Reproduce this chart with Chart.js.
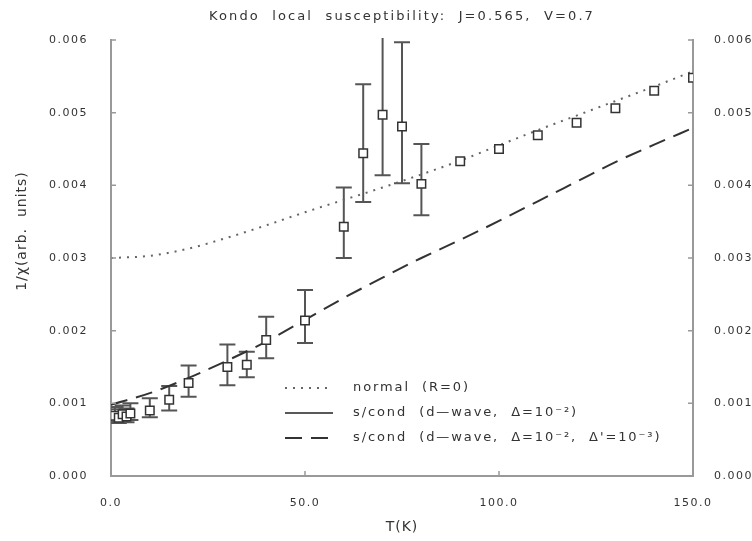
<!DOCTYPE html>
<html>
<head>
<meta charset="utf-8">
<script src="https://cdn.jsdelivr.net/npm/chart.js@4.4.0/dist/chart.umd.min.js"></script>
<style>
  body { margin: 0; background: #fff; }
  canvas { display: block; }
</style>
</head>
<body>
<canvas id="kondo" width="752" height="541"></canvas>
<script>
// measured points (squares with error bars)
const tempK   = [1, 2, 3, 4, 5, 10, 15, 20, 30, 35, 40, 50, 60, 65, 70, 75, 80, 90, 100, 110, 120, 130, 140, 150];
const chiInv  = [0.00083, 0.00080, 0.00085, 0.00082, 0.00086, 0.00090, 0.00105, 0.00128, 0.00150, 0.00153, 0.00187, 0.00214,
                 0.00343, 0.00444, 0.00497, 0.00481, 0.00402, 0.00433, 0.00450, 0.00469, 0.00486, 0.00506, 0.00530, 0.00548];
const errLow  = [0.00075, 0.00073, 0.00076, 0.00074, 0.00077, 0.00081, 0.00090, 0.00109, 0.00125, 0.00136, 0.00162, 0.00183,
                 0.00300, 0.00377, 0.00414, 0.00403, 0.00359, null, null, null, null, null, null, null];
const errHigh = [0.00095, 0.00092, 0.00097, 0.00093, 0.00100, 0.00107, 0.00124, 0.00152, 0.00181, 0.00171, 0.00219, 0.00256,
                 0.00397, 0.00539, 0.00620, 0.00597, 0.00457, null, null, null, null, null, null, null];

// theory curves
const curveT       = [0, 10, 20, 30, 40, 50, 60, 70, 80, 90, 100, 110, 120, 130, 140, 150];
const normalR0     = [0.00300, 0.00303, 0.00313, 0.00328, 0.00345, 0.00363, 0.00380, 0.00397, 0.00415, 0.00434,
                      0.00455, 0.00476, 0.00496, 0.00516, 0.00536, 0.00557];
const dwaveGap     = []; // solid curve: in the legend, not visible in the plot
const dwaveGapBoth = [0.00098, 0.00114, 0.00135, 0.00159, 0.00185, 0.00215, 0.00245, 0.00273, 0.00300, 0.00325,
                      0.00351, 0.00378, 0.00405, 0.00432, 0.00456, 0.00479];

const titleText = 'Kondo  local  susceptibility:  J=0.565,  V=0.7';
const legendLabels = ['normal  (R=0)', 's/cond  (d\u2014wave,  \u0394=10\u207B\u00B2)', 's/cond  (d\u2014wave,  \u0394=10\u207B\u00B2,  \u0394\'=10\u207B\u00B3)'];

const FONT = '"DejaVu Sans", sans-serif';
const INK = '#333';

function pairs(xs, ys) {
    return xs.map((v, i) => ({x: v, y: ys[i]}));
}

const decor = {
    id: 'decor',
    beforeDraw(chart) {
        chart.ctx.letterSpacing = '1.5px';
    },
    beforeDatasetsDraw(chart) {
        // error bars, under the squares
        let ctx = chart.ctx, a = chart.chartArea, x = chart.scales.x, y = chart.scales.y;
        ctx.save();
        ctx.beginPath();
        ctx.rect(a.left, a.top - 2, a.right - a.left, a.bottom - a.top + 2);
        ctx.clip();
        ctx.strokeStyle = '#555';
        ctx.lineWidth = 2;
        for (let i = 0; i < tempK.length; i++) {
            if (errLow[i] == null) continue;
            let px = x.getPixelForValue(tempK[i]);
            let lo = y.getPixelForValue(errLow[i]);
            let hi = y.getPixelForValue(errHigh[i]);
            ctx.beginPath();
            ctx.moveTo(px, lo); ctx.lineTo(px, hi);
            ctx.moveTo(px - 8, lo); ctx.lineTo(px + 8, lo);
            ctx.moveTo(px - 8, hi); ctx.lineTo(px + 8, hi);
            ctx.stroke();
        }
        ctx.restore();
    },
    afterDraw(chart) {
        let ctx = chart.ctx, a = chart.chartArea, x = chart.scales.x, y = chart.scales.y;
        ctx.save();

        // inward tick marks
        ctx.strokeStyle = '#999';
        ctx.lineWidth = 1.5;
        ctx.beginPath();
        for (let t of y.ticks) {
            let py = y.getPixelForValue(t.value);
            ctx.moveTo(a.left, py); ctx.lineTo(a.left + 5, py);
            ctx.moveTo(a.right, py); ctx.lineTo(a.right - 5, py);
        }
        for (let t of x.ticks) {
            let px = x.getPixelForValue(t.value);
            ctx.moveTo(px, a.bottom); ctx.lineTo(px, a.bottom - 5);
        }
        ctx.stroke();

        // titles
        ctx.fillStyle = INK;
        ctx.textAlign = 'center';
        ctx.textBaseline = 'middle';
        ctx.letterSpacing = '2.1px';
        ctx.font = '13px ' + FONT;
        ctx.fillText(titleText, (a.left + a.right) / 2, 17);
        ctx.letterSpacing = '1px';
        ctx.font = '14px ' + FONT;
        ctx.fillText('T(K)', (a.left + a.right) / 2, 527);
        ctx.translate(22, 231);
        ctx.rotate(-Math.PI / 2);
        ctx.fillText('1/\u03C7(arb.  units)', 0, 0);
        ctx.setTransform(1, 0, 0, 1, 0, 0);

        // legend, bottom right inside the plot
        let rows = chart.data.datasets.filter(d => d.showLine);
        ctx.font = '13px ' + FONT;
        ctx.letterSpacing = '1.9px';
        ctx.textAlign = 'left';
        rows.forEach((d, i) => {
            let ry = 388 + i * 25;
            ctx.strokeStyle = d.borderColor;
            ctx.lineWidth = d.borderWidth;
            ctx.setLineDash(d.borderDash || []);
            ctx.beginPath();
            ctx.moveTo(285, ry); ctx.lineTo(333, ry);
            ctx.stroke();
            ctx.setLineDash([]);
            ctx.fillText(d.label, 353, ry);
        });
        ctx.restore();
    }
};

let chart = new Chart(document.getElementById('kondo'), {
    type: 'scatter',
    data: {
        datasets: [
            {
                label: 'data',
                data: pairs(tempK, chiInv),
                pointStyle: 'rect',
                pointRadius: 6,
                borderColor: INK,
                borderWidth: 1.5,
                backgroundColor: '#fff'
            },
            {
                label: legendLabels[0],
                data: pairs(curveT, normalR0),
                showLine: true,
                pointRadius: 0,
                borderColor: '#666',
                borderWidth: 2,
                borderDash: [2, 6],
                cubicInterpolationMode: 'monotone'
            },
            {
                label: legendLabels[1],
                data: pairs(curveT, dwaveGap),
                showLine: true,
                pointRadius: 0,
                borderColor: '#222',
                borderWidth: 1.5
            },
            {
                label: legendLabels[2],
                data: pairs(curveT, dwaveGapBoth),
                showLine: true,
                pointRadius: 0,
                borderColor: '#333',
                borderWidth: 2,
                borderDash: [17, 9],
                cubicInterpolationMode: 'monotone'
            }
        ]
    },
    options: {
        responsive: false,
        animation: false,
        events: [],
        layout: { padding: { top: 40, left: 0, right: 0, bottom: 0 } },
        plugins: { legend: { display: false }, tooltip: { enabled: false } },
        scales: {
            x: {
                type: 'linear', min: 0, max: 150,
                grid: { display: false },
                border: { display: true, color: '#999', width: 2 },
                ticks: { stepSize: 50, padding: 13, color: INK, font: { family: FONT, size: 11 },
                         maxRotation: 0, callback: v => v.toFixed(1) },
                afterFit: s => { s.height = 65; }
            },
            y: {
                type: 'linear', position: 'left', min: 0, max: 0.006,
                grid: { display: false },
                border: { display: true, color: '#999', width: 2 },
                ticks: { stepSize: 0.001, padding: 15, color: INK, font: { family: FONT, size: 11 },
                         callback: v => v.toFixed(3) },
                afterFit: s => { s.width = 111; }
            },
            y2: {
                type: 'linear', position: 'right', min: 0, max: 0.006,
                grid: { display: false },
                border: { display: true, color: '#999', width: 2 },
                ticks: { stepSize: 0.001, padding: 13, color: INK, font: { family: FONT, size: 11 },
                         callback: v => v.toFixed(3) },
                afterFit: s => { s.width = 59; }
            }
        }
    },
    plugins: [decor]
});
</script>
</body>
</html>
